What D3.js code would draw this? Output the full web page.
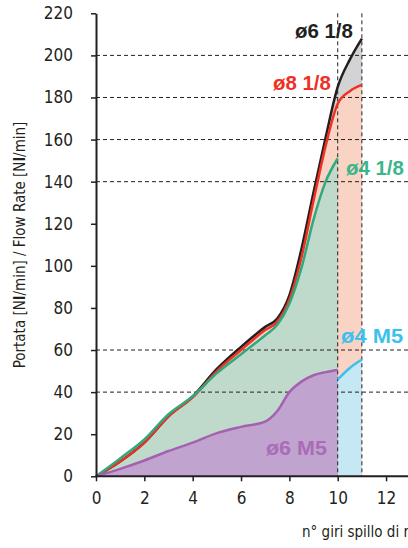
<!DOCTYPE html>
<html>
<head>
<meta charset="utf-8">
<script src="https://cdn.jsdelivr.net/npm/d3@7"></script>
<style>
  body { margin: 0; background: #fff; }
  svg { display: block; font-family: "Liberation Sans Narrow", "Arial Narrow", "DejaVu Sans Condensed", sans-serif; }
</style>
</head>
<body>
<div id="vis"></div>
<script>
// turns of the regulating screw
var turns = [0, 1, 2, 3, 4, 5, 6, 7, 7.5, 8, 8.5, 9, 9.5, 10, 10.5, 11];
var turnsShort = turns.slice(0, 14); // up to 10
var turnsTail = [10, 10.5, 11];

// flow rate [Nl/min]
var d6_18 = [0, 7, 16, 28.5, 38, 51, 61.5, 71, 75, 86, 108, 135, 161, 185, 198, 208];
var d8_18 = [0, 7, 16, 28.5, 37.5, 50, 60, 69.5, 73.5, 84, 104, 131, 157, 177, 183, 186];
var d4_18 = [0, 8.5, 17.5, 29.5, 38, 49, 58, 67, 72, 82, 99, 122, 140, 151];
var d6_M5 = [0, 3.5, 7.5, 12, 16, 20.5, 23.5, 26, 31, 40, 45, 48, 49.5, 50.5];
var d4_M5 = [46, 51.5, 55.5];

var xTicks = [0, 2, 4, 6, 8, 10, 12];
var yTicks = [0, 20, 40, 60, 80, 100, 120, 140, 160, 180, 200, 220];
var gridValues = [40, 60, 140, 160, 180, 200];
var markerTurns = [10, 11];

var labels = [
    { text: "ø6 1/8", u: 10.63, v: 208.2, anchor: "end", color: "#231f20", len: 58 },
    { text: "ø8 1/8", u: 9.72, v: 183.5, anchor: "end", color: "#ee3124", len: 58 },
    { text: "ø4 1/8", u: 10.34, v: 143.1, anchor: "start", color: "#3bb58a", len: 58 },
    { text: "ø4 M5", u: 10.14, v: 63.3, anchor: "start", color: "#3cc0ee", len: 62 },
    { text: "ø6 M5", u: 7.03, v: 10.1, anchor: "start", color: "#a86cb8", len: 61 }
];

var W = 408, H = 548;

var x = d3.scaleLinear().domain([0, 14]).range([96, 434.4]);
var y = d3.scaleLinear().domain([0, 220]).range([476.3, 13.3]);

function pts(xs, ys) {
    return xs.map(function (t, i) { return [t, ys[i]]; });
}

var area = d3.area()
    .x(function (d) { return x(d[0]); })
    .y0(y(0))
    .y1(function (d) { return y(d[1]); })
    .curve(d3.curveMonotoneX);

var line = d3.line()
    .x(function (d) { return x(d[0]); })
    .y(function (d) { return y(d[1]); })
    .curve(d3.curveMonotoneX);

var chart = d3.select('#vis').append('svg')
    .attr("width", W)
    .attr("height", H);

// fills
chart.append("path").datum(pts(turns, d6_18)).attr("d", area).attr("fill", "#d1d3d4");
chart.append("path").datum(pts(turns, d8_18)).attr("d", area).attr("fill", "#f9d4c4");
chart.append("path").datum(pts(turnsShort, d4_18)).attr("d", area).attr("fill", "#bfdacb");
chart.append("path").datum(pts(turnsTail, d4_M5)).attr("d", area).attr("fill", "#c6e8f5");

// dashed grid
chart.append("g").selectAll("line")
    .data(gridValues)
    .enter().append("line")
    .attr("x1", x(0)).attr("x2", W)
    .attr("y1", function (d) { return y(d); })
    .attr("y2", function (d) { return y(d); })
    .attr("stroke", "#231f20")
    .attr("stroke-width", 1)
    .attr("stroke-dasharray", "4,3");

chart.append("path").datum(pts(turnsShort, d6_M5)).attr("d", area).attr("fill", "#c1a3cf");

// vertical markers at 10 and 11 turns
chart.append("g").selectAll("line")
    .data(markerTurns)
    .enter().append("line")
    .attr("x1", function (d) { return x(d); })
    .attr("x2", function (d) { return x(d); })
    .attr("y1", y(220)).attr("y2", y(0))
    .attr("stroke", "#231f20")
    .attr("stroke-width", 1)
    .attr("stroke-dasharray", "4,3");

// lines
var series = [
    { xs: turns, ys: d6_18, color: "#231f20" },
    { xs: turns, ys: d8_18, color: "#ee3124" },
    { xs: turnsShort, ys: d4_18, color: "#2eaa7e" },
    { xs: turnsShort, ys: d6_M5, color: "#a561b0" },
    { xs: turnsTail, ys: d4_M5, color: "#3cc0ee" }
];
chart.append("g").selectAll("path")
    .data(series)
    .enter().append("path")
    .attr("d", function (s) { return line(pts(s.xs, s.ys)); })
    .attr("fill", "none")
    .attr("stroke", function (s) { return s.color; })
    .attr("stroke-width", 2.5)
    .attr("stroke-linejoin", "round");

// axes
var xAxis = d3.axisBottom(x).tickValues(xTicks).tickSize(5).tickPadding(11).tickSizeOuter(0);
var yAxis = d3.axisLeft(y).tickValues(yTicks).tickSize(5).tickPadding(18).tickSizeOuter(0);

var gx = chart.append("g")
    .attr("transform", "translate(0," + y(0) + ")")
    .call(xAxis);
var gy = chart.append("g")
    .attr("transform", "translate(" + x(0) + ",0)")
    .call(yAxis);

[gx, gy].forEach(function (g) {
    g.select(".domain").attr("stroke", "#231f20").attr("stroke-width", 2);
    g.selectAll(".tick line").attr("stroke", "#231f20").attr("stroke-width", 1.5);
    g.selectAll(".tick text")
        .attr("fill", "#231f20")
        .style("font-family", "\"Liberation Sans Narrow\", \"Arial Narrow\", \"DejaVu Sans Condensed\", sans-serif")
        .style("font-size", "17px");
});
gx.select(".domain").attr("d", "M" + x(0) + ",0H" + W);

// series labels
chart.append("g").selectAll("text")
    .data(labels)
    .enter().append("text")
    .attr("x", function (d) { return x(d.u); })
    .attr("y", function (d) { return y(d.v); })
    .attr("text-anchor", function (d) { return d.anchor; })
    .attr("fill", function (d) { return d.color; })
    .attr("textLength", function (d) { return d.len; })
    .attr("lengthAdjust", "spacingAndGlyphs")
    .style("font-family", "\"Liberation Sans\", Arial, sans-serif")
    .style("font-weight", "bold")
    .style("font-size", "20px")
    .text(function (d) { return d.text; });

// axis titles
var yTitle = chart.append("text")
    .attr("transform", "translate(25," + 245 + ") rotate(-90)")
    .attr("text-anchor", "middle")
    .attr("fill", "#231f20")
    .style("font-size", "15px");
yTitle.append("tspan").text("Portata [N");
yTitle.append("tspan").style("font-weight", "bold").text("l");
yTitle.append("tspan").text("/min] / Flow Rate [N");
yTitle.append("tspan").style("font-weight", "bold").text("l");
yTitle.append("tspan").text("/min]");

chart.append("text")
    .attr("x", 302)
    .attr("y", 537)
    .attr("fill", "#231f20")
    .style("font-size", "15px")
    .text("n° giri spillo di regolazione");
</script>
</body>
</html>
